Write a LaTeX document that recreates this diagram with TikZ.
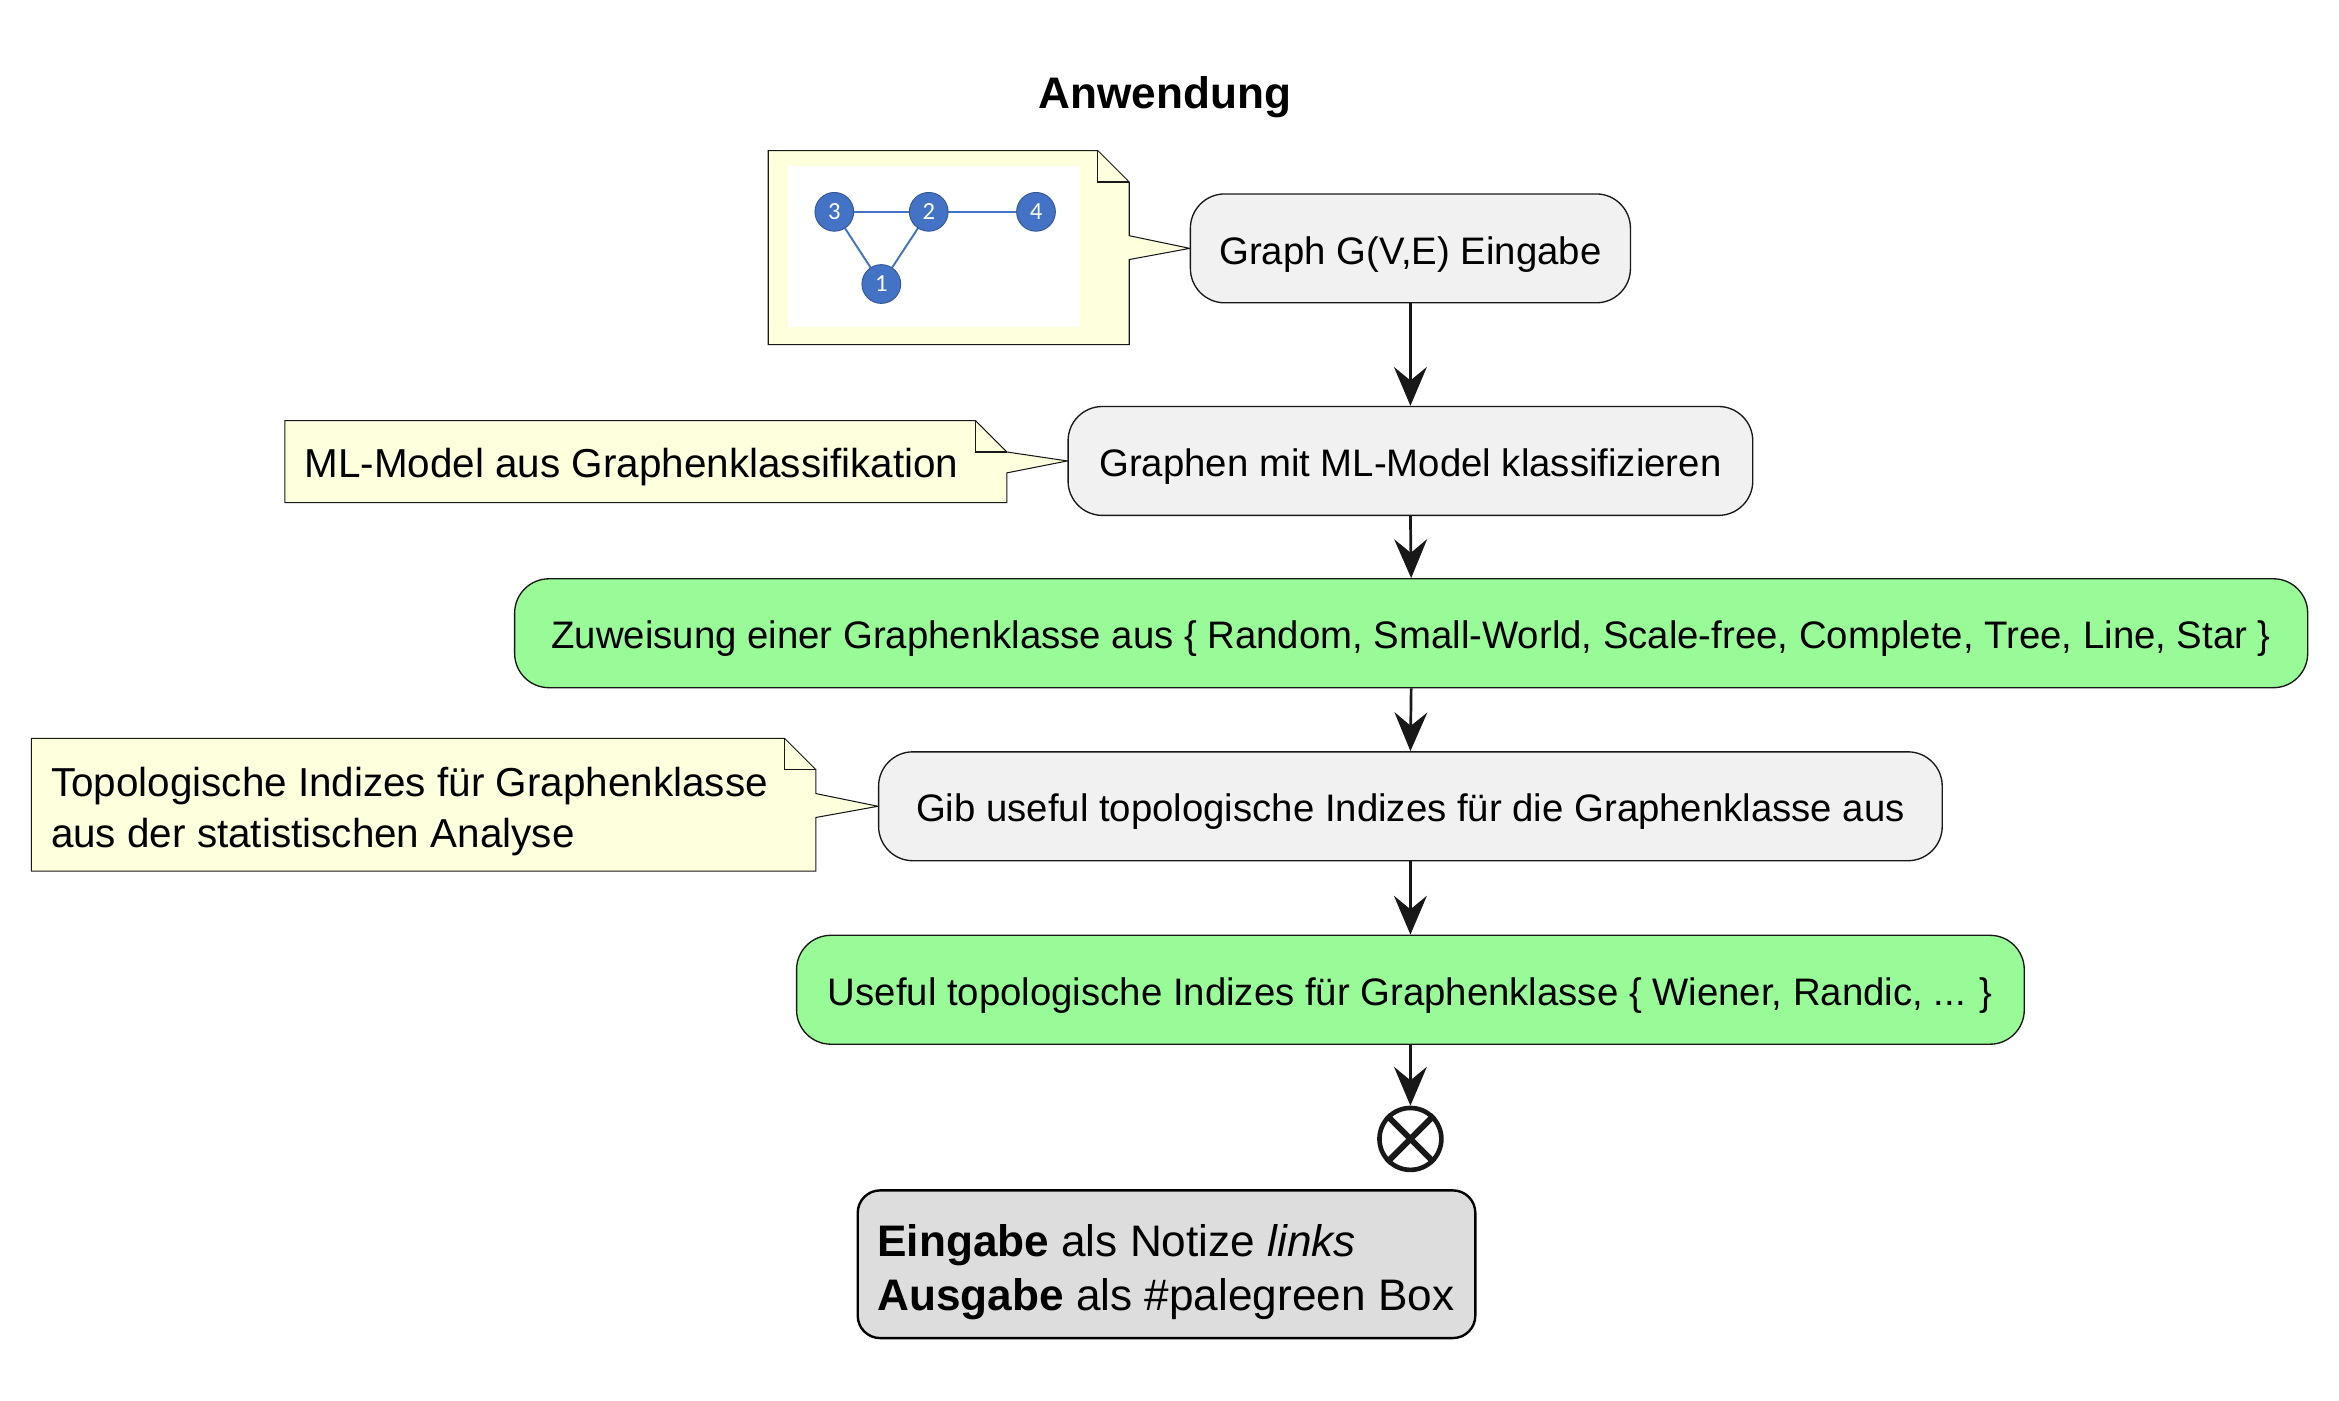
\documentclass[tikz,border=0pt]{standalone}
\usepackage{fontspec}
\setmainfont{Liberation Sans}
\newfontfamily\digitfont{Carlito}
\usetikzlibrary{arrows.meta,calc,backgrounds}
\definecolor{boxfill}{HTML}{F1F1F1}
\definecolor{pgreen}{HTML}{98FB98}
\definecolor{notefill}{HTML}{FEFFDD}
\definecolor{lineblack}{HTML}{181818}
\definecolor{gblue}{HTML}{4472C4}
\definecolor{legfill}{HTML}{DDDDDD}
\begin{document}
\begin{tikzpicture}[x=1pt,y=-1pt,
 actbox/.style={draw=lineblack, line width=0.9pt, fill=boxfill, rounded corners=23pt, minimum height=73pt, inner sep=0pt, text height=21pt, text depth=0pt, font=\fontsize{25.7}{30}\selectfont},
 greenbox/.style={actbox, fill=pgreen},
 notetext/.style={inner sep=0pt, font=\fontsize{27.1}{34}\selectfont, align=left, anchor=west},
 noteshape/.style={draw=lineblack, line width=0.7pt, fill=notefill, line join=miter},
 foldline/.style={draw=lineblack, line width=0.7pt},
 flow/.style={draw=lineblack, line width=1.8pt, -{Stealth[length=26pt,width=22pt,inset=9pt]}},
 gv/.style={circle, fill=gblue, draw=gblue!75!black, line width=0.6pt, minimum size=26pt, inner sep=0pt, text=white, font=\digitfont\fontsize{16.5}{16.5}\selectfont},
 ge/.style={draw=gblue, line width=1.3pt}
]
\useasboundingbox (0,0) rectangle (1568,939);

% title
\node[font=\fontsize{29.6}{30}\bfseries] (title) at (781,65) {Anwendung};

% activity boxes
\node[actbox, minimum width=295pt] (b1) at (945.5,166.5) {Graph G(V,E) Eingabe};
\node[actbox, minimum width=459pt] (b2) at (945.5,309) {Graphen mit ML-Model klassifizieren};
\node[greenbox, minimum width=1202pt] (b3) at (946,424.5) {Zuweisung einer Graphenklasse aus \{ Random, Small-World, Scale-free, Complete, Tree, Line, Star \}};
\node[actbox, minimum width=713pt] (b4) at (945.5,540.5) {Gib useful topologische Indizes für die Graphenklasse aus};
\node[greenbox, minimum width=823pt] (b5) at (945.5,663.5) {Useful topologische Indizes für Graphenklasse \{ Wiener, Randic, ... \}};

% end node
\node[circle, draw=lineblack, line width=3.1pt, minimum size=41.5pt, inner sep=0pt] (endc) at (945.5,763.5) {};
\draw[lineblack, line width=4pt] (endc.north west) -- (endc.south east);
\draw[lineblack, line width=4pt] (endc.north east) -- (endc.south west);

% flows
\draw[flow] (b1.south) -- (b2.north);
\draw[flow] (b2.south) -- (b3.north);
\draw[flow] (b3.south) -- (b4.north);
\draw[flow] (b4.south) -- (b5.north);
\draw[flow] (b5.south) -- (endc.north);

% notes
\node[notetext] (n2) at (204,313) {ML-Model aus Graphenklassifikation};
\node[notetext] (n3) at (34,544) {Topologische Indizes für Graphenklasse\\aus der statistischen Analyse};

% graph vertices inside note 1
\node[gv] (g3) at (559.3,142) {3};
\node[gv] (g2) at (622.6,142) {2};
\node[gv] (g4) at (694.5,142) {4};
\node[gv] (g1) at (590.8,190.4) {1};

\begin{scope}[on background layer]
\draw[noteshape] (515,101) -- (736,101) -- (757,122) -- (757,158) -- (b1.west) -- (757,174) -- (757,231) -- (515,231) -- cycle;
\draw[foldline] (736,101) -- (736,122) -- (757,122);
\draw[noteshape] (191,282) -- (654,282) -- (675,303) -- (b2.west) -- (675,317) -- (675,337) -- (191,337) -- cycle;
\draw[foldline] (654,282) -- (654,303) -- (675,303);
\draw[noteshape] (21,495) -- (526,495) -- (547,516) -- (547,532) -- (b4.west) -- (547,548) -- (547,584) -- (21,584) -- cycle;
\draw[foldline] (526,495) -- (526,516) -- (547,516);
\fill[white] (528,111.5) rectangle (724,219.5);
\draw[ge] (g3.center) -- (g2.center);
\draw[ge] (g2.center) -- (g4.center);
\draw[ge] (g3.center) -- (g1.center);
\draw[ge] (g2.center) -- (g1.center);
\end{scope}

% legend
\draw[draw=black, line width=1.6pt, fill=legfill, rounded corners=15pt] (575,798) rectangle (989,897);
\node[inner sep=0pt, anchor=west, align=left, font=\fontsize{29.6}{36}\selectfont] (legend) at (588,853)
 {\textbf{Eingabe} als Notize \textit{links}\\\textbf{Ausgabe} als \#palegreen Box};
\end{tikzpicture}
\end{document}
